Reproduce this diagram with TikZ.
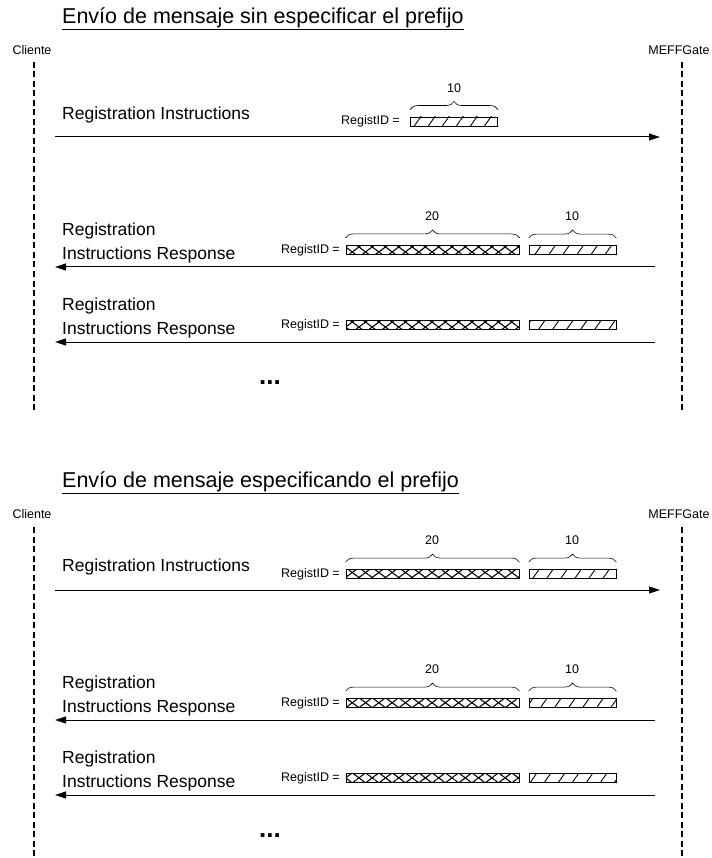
\documentclass[tikz,border=0pt]{standalone}
\usepackage{fontspec}
\setmainfont{Liberation Sans}
\usetikzlibrary{arrows.meta,decorations.pathreplacing,patterns.meta}

\tikzset{
  lifeline/.style={line width=1.4pt,dash pattern=on 6pt off 3.5pt},
  msg/.style={-{Triangle[length=11pt,width=7pt]},line width=1pt},
  msgtext/.style={anchor=west,align=left,inner sep=0pt,font=\fontsize{17.5}{24}\selectfont},
  small/.style={inner sep=0pt,font=\fontsize{12.5}{14}\selectfont},
  title/.style={anchor=west,inner sep=0pt,font=\fontsize{21.5}{24}\selectfont},
  dots/.style={inner sep=0pt,font=\fontsize{26}{28}\selectfont\bfseries},
  idbox/.style={draw,line width=0.8pt,minimum height=9pt,inner sep=0pt},
  prefbox/.style={idbox,minimum width=87pt,pattern={Lines[angle=55,distance=11.5pt,line width=0.9pt]}},
  seqbox/.style={idbox,minimum width=173pt,pattern={Lines[angle=37,distance=8pt,line width=1.1pt]},
    postaction={pattern={Lines[angle=-37,distance=8pt,line width=1.1pt]}}},
  idbrace/.style={decorate,decoration={brace,amplitude=8pt},line width=0.6pt},
}

\begin{document}
\begin{tikzpicture}[x=1pt,y=-1pt]
\useasboundingbox (0,0) rectangle (711,858);

% sin prefijo
\node[title] (t1) at (62,19) {\underline{Envío de mensaje sin especificar el prefijo}};
\node[small] (cli1) at (32,50) {Cliente};
\node[small] (gw1) at (679,50) {MEFFGate};
\coordinate (cl1a) at (34,62); \coordinate (cl1b) at (34,410);
\coordinate (gw1a) at (682,62); \coordinate (gw1b) at (682,410);
\draw[lifeline] (cl1a) -- (cl1b);
\draw[lifeline] (gw1a) -- (gw1b);

\node[msgtext] (m11) at (62,115) {Registration Instructions};
\node[small,anchor=east] (r11) at (400,121.5) {RegistID =};
\node[prefbox] (p11) at (454,121.5) {};
\draw[idbrace] ([yshift=7pt]p11.north west) -- ([yshift=7pt]p11.north east);
\node[small] (n11) at (454,88) {10};
\coordinate (a11s) at (55,137); \coordinate (a11e) at (660,137);
\draw[msg] (a11s) -- (a11e);

\node[msgtext] (m12) at (62,243) {Registration\\Instructions Response};
\node[small,anchor=east] (r12) at (340,250) {RegistID =};
\node[seqbox] (s12) at (432.5,250) {};
\node[prefbox] (p12) at (572.5,250) {};
\draw[idbrace] ([yshift=7pt]s12.north west) -- ([yshift=7pt]s12.north east);
\draw[idbrace] ([yshift=7pt]p12.north west) -- ([yshift=7pt]p12.north east);
\node[small] (n12) at (432,216) {20};
\node[small] (n12b) at (572,216) {10};
\coordinate (a12s) at (655,267); \coordinate (a12e) at (55,267);
\draw[msg] (a12s) -- (a12e);

\node[msgtext] (m13) at (62,318) {Registration\\Instructions Response};
\node[small,anchor=east] (r13) at (340,325) {RegistID =};
\node[seqbox] (s13) at (432.5,325) {};
\node[prefbox] (p13) at (572.5,325) {};
\coordinate (a13s) at (655,342); \coordinate (a13e) at (55,342);
\draw[msg] (a13s) -- (a13e);

\node[dots] (d1) at (270,383) {...};

% con prefijo
\node[title] (t2) at (62,483) {\underline{Envío de mensaje especificando el prefijo}};
\node[small] (cli2) at (32,514) {Cliente};
\node[small] (gw2) at (679,514) {MEFFGate};
\coordinate (cl2a) at (34,527); \coordinate (cl2b) at (34,858);
\coordinate (gw2a) at (682,527); \coordinate (gw2b) at (682,858);
\draw[lifeline] (cl2a) -- (cl2b);
\draw[lifeline] (gw2a) -- (gw2b);

\node[msgtext] (m21) at (62,567) {Registration Instructions};
\node[small,anchor=east] (r21) at (340,574) {RegistID =};
\node[seqbox] (s21) at (432.5,574) {};
\node[prefbox] (p21) at (572.5,574) {};
\draw[idbrace] ([yshift=7pt]s21.north west) -- ([yshift=7pt]s21.north east);
\draw[idbrace] ([yshift=7pt]p21.north west) -- ([yshift=7pt]p21.north east);
\node[small] (n21) at (432,540) {20};
\node[small] (n21b) at (572,540) {10};
\coordinate (a21s) at (55,590); \coordinate (a21e) at (660,590);
\draw[msg] (a21s) -- (a21e);

\node[msgtext] (m22) at (62,696) {Registration\\Instructions Response};
\node[small,anchor=east] (r22) at (340,703) {RegistID =};
\node[seqbox] (s22) at (432.5,703) {};
\node[prefbox] (p22) at (572.5,703) {};
\draw[idbrace] ([yshift=7pt]s22.north west) -- ([yshift=7pt]s22.north east);
\draw[idbrace] ([yshift=7pt]p22.north west) -- ([yshift=7pt]p22.north east);
\node[small] (n22) at (432,669) {20};
\node[small] (n22b) at (572,669) {10};
\coordinate (a22s) at (655,720); \coordinate (a22e) at (55,720);
\draw[msg] (a22s) -- (a22e);

\node[msgtext] (m23) at (62,771) {Registration\\Instructions Response};
\node[small,anchor=east] (r23) at (340,778) {RegistID =};
\node[seqbox] (s23) at (432.5,778) {};
\node[prefbox] (p23) at (572.5,778) {};
\coordinate (a23s) at (655,795); \coordinate (a23e) at (55,795);
\draw[msg] (a23s) -- (a23e);

\node[dots] (d2) at (270,836) {...};
\end{tikzpicture}
\end{document}
